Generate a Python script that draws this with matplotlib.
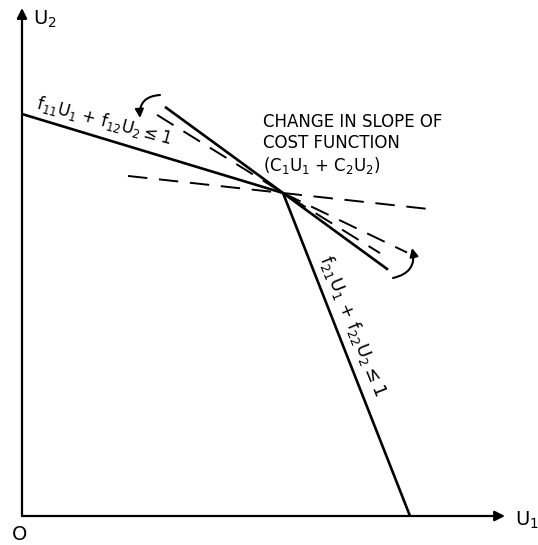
import matplotlib
matplotlib.use('Agg')
import matplotlib.pyplot as plt
import numpy as np
from matplotlib.patches import FancyArrowPatch

# vertex where the two constraints meet
vertex_u1 = 2.61
vertex_u2 = 3.23

# where each constraint meets an axis
c1_u2_intercept = 4.02   # f11 U1 + f12 U2 <= 1
c2_u1_intercept = 3.88   # f21 U1 + f22 U2 <= 1

# cost function lines through the vertex (slope, start, end)
cost_slopes = [-0.73, -0.62, -0.48, -0.11]
cost_u1_start = [1.43, 1.35, 2.61, 1.06]
cost_u1_end = [3.66, 3.58, 3.85, 4.06]
cost_styles = ['solid', 'dashed', 'dashed', 'dashed']

# axis extents
u1_max = 4.83
u2_max = 5.08

# curved arrows (start, end)
arrow_upper = [(1.38, 4.21), (1.18, 3.98)]
arrow_lower = [(3.71, 2.38), (3.90, 2.68)]

label_c1 = r'f$_{11}$U$_1$ + f$_{12}$U$_2$$\leq$1'
label_c2 = r'f$_{21}$U$_1$ + f$_{22}$U$_2$$\leq$1'
label_cost = 'CHANGE IN SLOPE OF\nCOST FUNCTION\n(C$_1$U$_1$ + C$_2$U$_2$)'


fig = plt.figure(figsize=(5.38, 5.45), dpi=100)
ax = fig.add_axes([0, 0, 1, 1])
ax.set_xlim(-0.22, 5.16)
ax.set_ylim(-0.29, 5.16)
ax.axis('off')

# axes with arrows
ax.add_patch(FancyArrowPatch((0, 0), (u1_max, 0), arrowstyle='-|>,head_length=6,head_width=3',
                             color='black', lw=1.6, shrinkA=0, shrinkB=0))
ax.add_patch(FancyArrowPatch((0, 0), (0, u2_max), arrowstyle='-|>,head_length=6,head_width=3',
                             color='black', lw=1.6, shrinkA=0, shrinkB=0))

# constraint lines
ax.plot([0, vertex_u1], [c1_u2_intercept, vertex_u2], color='black', lw=1.9, solid_capstyle='butt')
ax.plot([vertex_u1, c2_u1_intercept], [vertex_u2, 0], color='black', lw=1.9, solid_capstyle='butt')

# cost lines
for s, a, b, st in zip(cost_slopes, cost_u1_start, cost_u1_end, cost_styles):
    u1 = np.array([a, b])
    u2 = vertex_u2 + s * (u1 - vertex_u1)
    if st == 'solid':
        ax.plot(u1, u2, color='black', lw=1.9, solid_capstyle='butt')
    else:
        ax.plot(u1, u2, color='black', lw=1.4, dashes=(10, 6))

# curved arrows
for start, end in [arrow_upper, arrow_lower]:
    ax.add_patch(FancyArrowPatch(start, end, connectionstyle='arc3,rad=0.5',
                                 arrowstyle='-|>,head_length=5,head_width=2.5',
                                 color='black', lw=1.5, shrinkA=0, shrinkB=0))

# text
ax.text(0.11, 4.97, 'U$_2$', fontsize=14, ha='left', va='center')
ax.text(4.93, -0.04, 'U$_1$', fontsize=14, ha='left', va='center')
ax.text(-0.02, -0.19, 'O', fontsize=14, ha='center', va='center')
ax.text(2.41, 4.03, label_cost, fontsize=12, ha='left', va='top', linespacing=1.2)
ax.text(0.82, 3.95, label_c1, fontsize=12, ha='center', va='center', rotation=-15,
        rotation_mode='anchor')
ax.text(3.31, 1.90, label_c2, fontsize=13, ha='center', va='center', rotation=-68,
        rotation_mode='anchor')

plt.savefig('out.png', dpi=100)
plt.close()
